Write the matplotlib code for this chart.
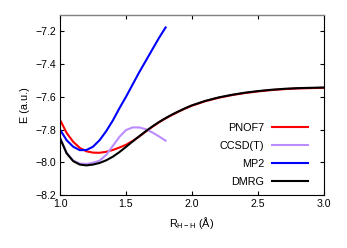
import matplotlib
matplotlib.use("Agg")
import matplotlib.pyplot as plt

plt.rcParams['font.family'] = ['Liberation Sans', 'DejaVu Sans']
plt.rcParams['mathtext.fontset'] = 'custom'
plt.rcParams['mathtext.rm'] = 'Liberation Sans'
plt.rcParams['mathtext.it'] = 'Liberation Sans:italic'

# Data
r_short = [1.0, 1.05, 1.1, 1.15, 1.2, 1.25, 1.3, 1.35, 1.4, 1.45, 1.5, 1.55,
           1.6, 1.65, 1.7, 1.75, 1.8]
mp2 = [-7.80, -7.865, -7.905, -7.926, -7.925, -7.905, -7.865, -7.81, -7.745,
       -7.67, -7.60, -7.525, -7.45, -7.38, -7.31, -7.24, -7.176]
ccsdt = [-7.85, -7.942, -7.99, -8.008, -8.01, -8.003, -7.99, -7.955, -7.90,
         -7.845, -7.803, -7.787, -7.787, -7.798, -7.818, -7.842, -7.868]

r_long = [1.0, 1.05, 1.1, 1.15, 1.2, 1.25, 1.3, 1.35, 1.4, 1.45, 1.5, 1.55,
          1.6, 1.65, 1.7, 1.75, 1.8, 1.85, 1.9, 1.95, 2.0, 2.1, 2.2, 2.3,
          2.4, 2.5, 2.6, 2.7, 2.8, 2.9, 3.0]
dmrg = [-7.852, -7.945, -7.993, -8.014, -8.019, -8.014, -8.004, -7.988, -7.966,
        -7.938, -7.906, -7.873, -7.841, -7.81, -7.781, -7.754, -7.73, -7.708,
        -7.688, -7.669, -7.652, -7.625, -7.604, -7.588, -7.575, -7.565, -7.557,
        -7.551, -7.547, -7.545, -7.543]
pnof7 = [-7.74, -7.82, -7.875, -7.912, -7.933, -7.941, -7.942, -7.936, -7.925,
         -7.91, -7.893, -7.87, -7.843, -7.812, -7.783, -7.756, -7.732, -7.71,
         -7.69, -7.671, -7.654, -7.627, -7.606, -7.59, -7.577, -7.567, -7.559,
         -7.553, -7.549, -7.547, -7.545]

labels = ["PNOF7", "CCSD(T)", "MP2", "DMRG"]
colors = ["#ff0000", "#bb8cff", "#0000ff", "#000000"]

fig = plt.figure(figsize=(3.47, 2.48), dpi=100)
ax = fig.add_axes([60/347, 1-195/248, (324-60)/347, (195-15)/248])

ax.plot(r_long, pnof7, color=colors[0], lw=1.5, label=labels[0])
ax.plot(r_short, ccsdt, color=colors[1], lw=1.5, label=labels[1])
ax.plot(r_short, mp2, color=colors[2], lw=1.5, label=labels[2])
ax.plot(r_long, dmrg, color=colors[3], lw=1.5, label=labels[3])

ax.set_xlim(1.0, 3.0)
ax.set_ylim(-8.2, -7.1)
ax.set_xticks([1.0, 1.5, 2.0, 2.5, 3.0])
ax.set_yticks([-8.2, -8.0, -7.8, -7.6, -7.4, -7.2])
ax.set_xticklabels(["1.0", "1.5", "2.0", "2.5", "3.0"])
ax.set_yticklabels(["\u22128.2", "\u22128.0", "\u22127.8", "\u22127.6", "\u22127.4", "\u22127.2"])
ax.tick_params(direction='in', top=True, right=True, length=3, width=0.8,
               labelsize=7.6, pad=3)
for s in ['left', 'bottom', 'right']:
    ax.spines[s].set_color('black')
    ax.spines[s].set_linewidth(0.8)
ax.spines['top'].set_color('#808080')
ax.spines['top'].set_linewidth(1.0)

ax.set_xlabel(r"R$_{\mathrm{H-H}}$ (Å)", fontsize=7.8, labelpad=4)
ax.set_ylabel("E (a.u.)", fontsize=7.8, labelpad=4)

leg = ax.legend(loc='lower right', bbox_to_anchor=(0.955, 0.02), frameon=False,
                markerfirst=False, fontsize=7.8, handlelength=3.3,
                handletextpad=0.7, labelspacing=0.75, borderaxespad=0.0)

fig.savefig("out.png", dpi=100)
